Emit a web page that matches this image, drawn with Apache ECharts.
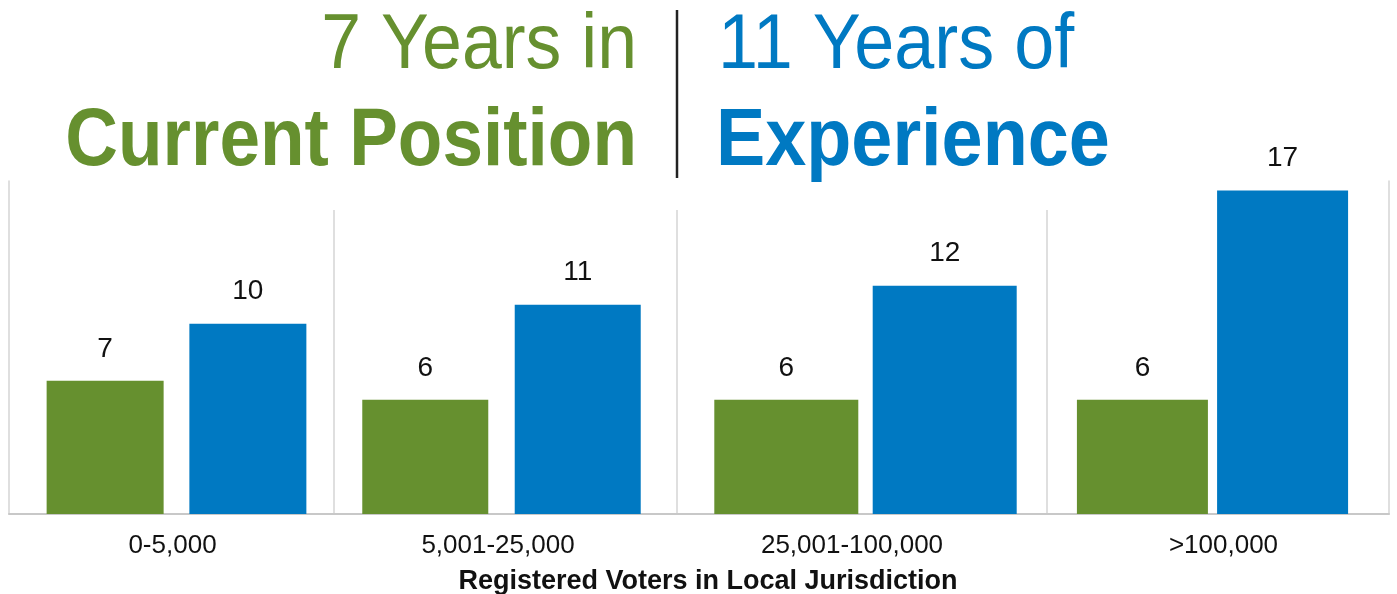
<!DOCTYPE html>
<html>
<head>
<meta charset="utf-8">
<script src="https://cdn.jsdelivr.net/npm/echarts@6/dist/echarts.min.js"></script>
<style>
  html, body { margin: 0; padding: 0; background: #ffffff; }
  #chart { width: 1397px; height: 594px; }
</style>
</head>
<body>
<div id="chart"></div>
<script>
// Registered voters per jurisdiction size, average years
const categories = ['0-5,000', '5,001-25,000', '25,001-100,000', '>100,000'];
const yearsInPosition = [7, 6, 6, 6];
const yearsOfExperience = [10, 11, 12, 17];

const GREEN = '#66902F';
const BLUE = '#0079C2';
const FONT = 'Liberation Sans, Arial, Helvetica, sans-serif';

// Each size bracket sits in its own panel so bar widths can differ per panel
const panels = [
  { left: 9,    width: 335, barWidth: 117, barGap: '22%', labelPad: [0, 8, 0, 0] },
  { left: 326,  width: 351, barWidth: 126, barGap: '21%', labelPad: [0, 7, 0, 0] },
  { left: 677,  width: 377, barWidth: 144, barGap: '10%', labelPad: [0, 27, 0, 0] },
  { left: 1036, width: 353, barWidth: 131, barGap: '7%',  labelPad: [0, 0, 0, 22] }
];
const separatorsX = [334, 677, 1047];
const plotTop = 181;
const plotBottom = 514;

const grids = [], xAxes = [], yAxes = [], series = [];

panels.forEach((p, i) => {
  grids.push({ left: p.left, width: p.width, top: plotTop, height: plotBottom - plotTop });
  xAxes.push({
    type: 'category',
    gridIndex: i,
    data: [categories[i]],
    axisTick: { show: false },
    axisLine: { show: true, lineStyle: { color: '#c8c8c8', width: 2 } },
    axisLabel: {
      color: '#111', fontSize: 26, fontFamily: FONT, margin: 19,
      padding: p.labelPad
    }
  });
  yAxes.push({
    type: 'value',
    gridIndex: i,
    min: 0, max: 17.5,
    splitLine: { show: false },
    axisLabel: { show: false },
    axisTick: { show: false },
    axisLine: { show: i === 0, lineStyle: { color: '#d4d4d4', width: 1.5 } }
  });
  const valueLabel = {
    show: true, position: 'top', distance: 18,
    color: '#111', fontSize: 28, fontFamily: FONT
  };
  series.push({
    name: 'Years in Current Position',
    type: 'bar', xAxisIndex: i, yAxisIndex: i,
    data: [yearsInPosition[i]],
    barWidth: p.barWidth, barGap: p.barGap,
    itemStyle: { color: GREEN },
    label: valueLabel
  });
  series.push({
    name: 'Years of Experience',
    type: 'bar', xAxisIndex: i, yAxisIndex: i,
    data: [yearsOfExperience[i]],
    barWidth: p.barWidth, barGap: p.barGap,
    itemStyle: { color: BLUE },
    label: valueLabel
  });
});

// Right-hand frame line on the last panel
yAxes.push({
  type: 'value', gridIndex: 3, position: 'right',
  min: 0, max: 17.5,
  splitLine: { show: false }, axisLabel: { show: false }, axisTick: { show: false },
  axisLine: { show: true, lineStyle: { color: '#d4d4d4', width: 1.5 } }
});

const graphics = [
  // headline, left half
  { type: 'text', x: 637, y: 47, scaleX: 0.93,
    style: { text: '7 Years in', fill: GREEN, fontSize: 77, fontFamily: FONT,
             align: 'right', verticalAlign: 'middle' } },
  { type: 'text', x: 637, y: 142, scaleX: 0.89,
    style: { text: 'Current Position', fill: GREEN, fontSize: 82, fontWeight: 'bold',
             fontFamily: FONT, align: 'right', verticalAlign: 'middle' } },
  // headline divider
  { type: 'line', shape: { x1: 677, y1: 10, x2: 677, y2: 178 },
    style: { stroke: '#222', lineWidth: 2.5 } },
  // headline, right half
  { type: 'text', x: 718, y: 47, scaleX: 0.935,
    style: { text: '11 Years of', fill: BLUE, fontSize: 77, fontFamily: FONT,
             align: 'left', verticalAlign: 'middle' } },
  { type: 'text', x: 716, y: 142, scaleX: 0.9,
    style: { text: 'Experience', fill: BLUE, fontSize: 82, fontWeight: 'bold',
             fontFamily: FONT, align: 'left', verticalAlign: 'middle' } },
  // x axis title
  { type: 'text', x: 708, y: 582,
    style: { text: 'Registered Voters in Local Jurisdiction', fill: '#111', fontSize: 27,
             fontWeight: 'bold', fontFamily: FONT, align: 'center', verticalAlign: 'middle' } }
];

// panel separators
separatorsX.forEach(x => {
  graphics.push({ type: 'line', shape: { x1: x, y1: 210, x2: x, y2: plotBottom },
    style: { stroke: '#d4d4d4', lineWidth: 1.5 }, z: 0 });
});

const chart = echarts.init(document.getElementById('chart'), null, { renderer: 'canvas' });
chart.setOption({
  animation: false,
  backgroundColor: '#ffffff',
  grid: grids,
  xAxis: xAxes,
  yAxis: yAxes,
  series: series,
  graphic: graphics
});
</script>
</body>
</html>
